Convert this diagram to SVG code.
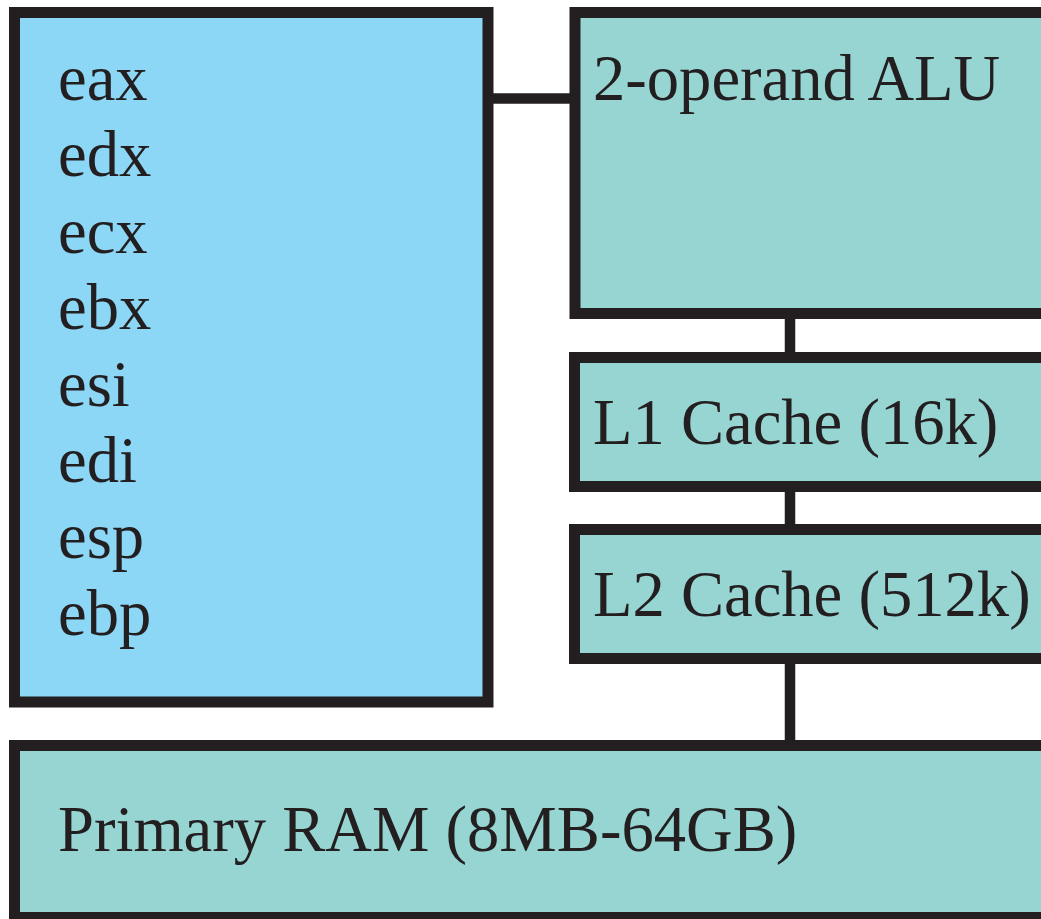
<svg xmlns="http://www.w3.org/2000/svg" width="1041" height="919" viewBox="0 0 1041 919">
<style>
.box{stroke:#231f20;stroke-width:11}
.reg{fill:#8cd7f5}
.unit{fill:#96d5d2}
.conn{stroke:#231f20;stroke-width:10.5;fill:none}
text{font-family:"Liberation Serif","Times New Roman",serif;font-size:64.6px;fill:#231f20}
</style>
<rect width="1041" height="919" fill="#ffffff"/>
<g id="connectors">
<line class="conn" x1="490" y1="98.5" x2="578" y2="98.5"/>
<line class="conn" x1="790" y1="316" x2="790" y2="355"/>
<line class="conn" x1="790" y1="489" x2="790" y2="527"/>
<line class="conn" x1="790" y1="661" x2="790" y2="743"/>
</g>
<g id="registers">
<rect class="box reg" x="14.5" y="12.5" width="473.5" height="689.5"/>
<text x="58" y="100">eax</text>
<text x="58" y="176.4">edx</text>
<text x="58" y="252.8">ecx</text>
<text x="58" y="329.2">ebx</text>
<text x="58" y="405.6">esi</text>
<text x="58" y="482">edi</text>
<text x="58" y="558.4">esp</text>
<text x="58" y="634.8">ebp</text>
</g>
<g id="alu">
<rect class="box unit" x="575" y="12.5" width="500" height="301"/>
<text x="593" y="100">2-operand ALU</text>
</g>
<g id="l1">
<rect class="box unit" x="574.5" y="357.5" width="500" height="129"/>
<text x="593" y="444">L1 Cache (16k)</text>
</g>
<g id="l2">
<rect class="box unit" x="574.5" y="529.5" width="500" height="129"/>
<text x="593" y="616">L2 Cache (512k)</text>
</g>
<g id="ram">
<rect class="box unit" x="14.5" y="745.5" width="1060" height="172"/>
<text x="58" y="851">Primary RAM (8MB-64GB)</text>
</g>
</svg>
